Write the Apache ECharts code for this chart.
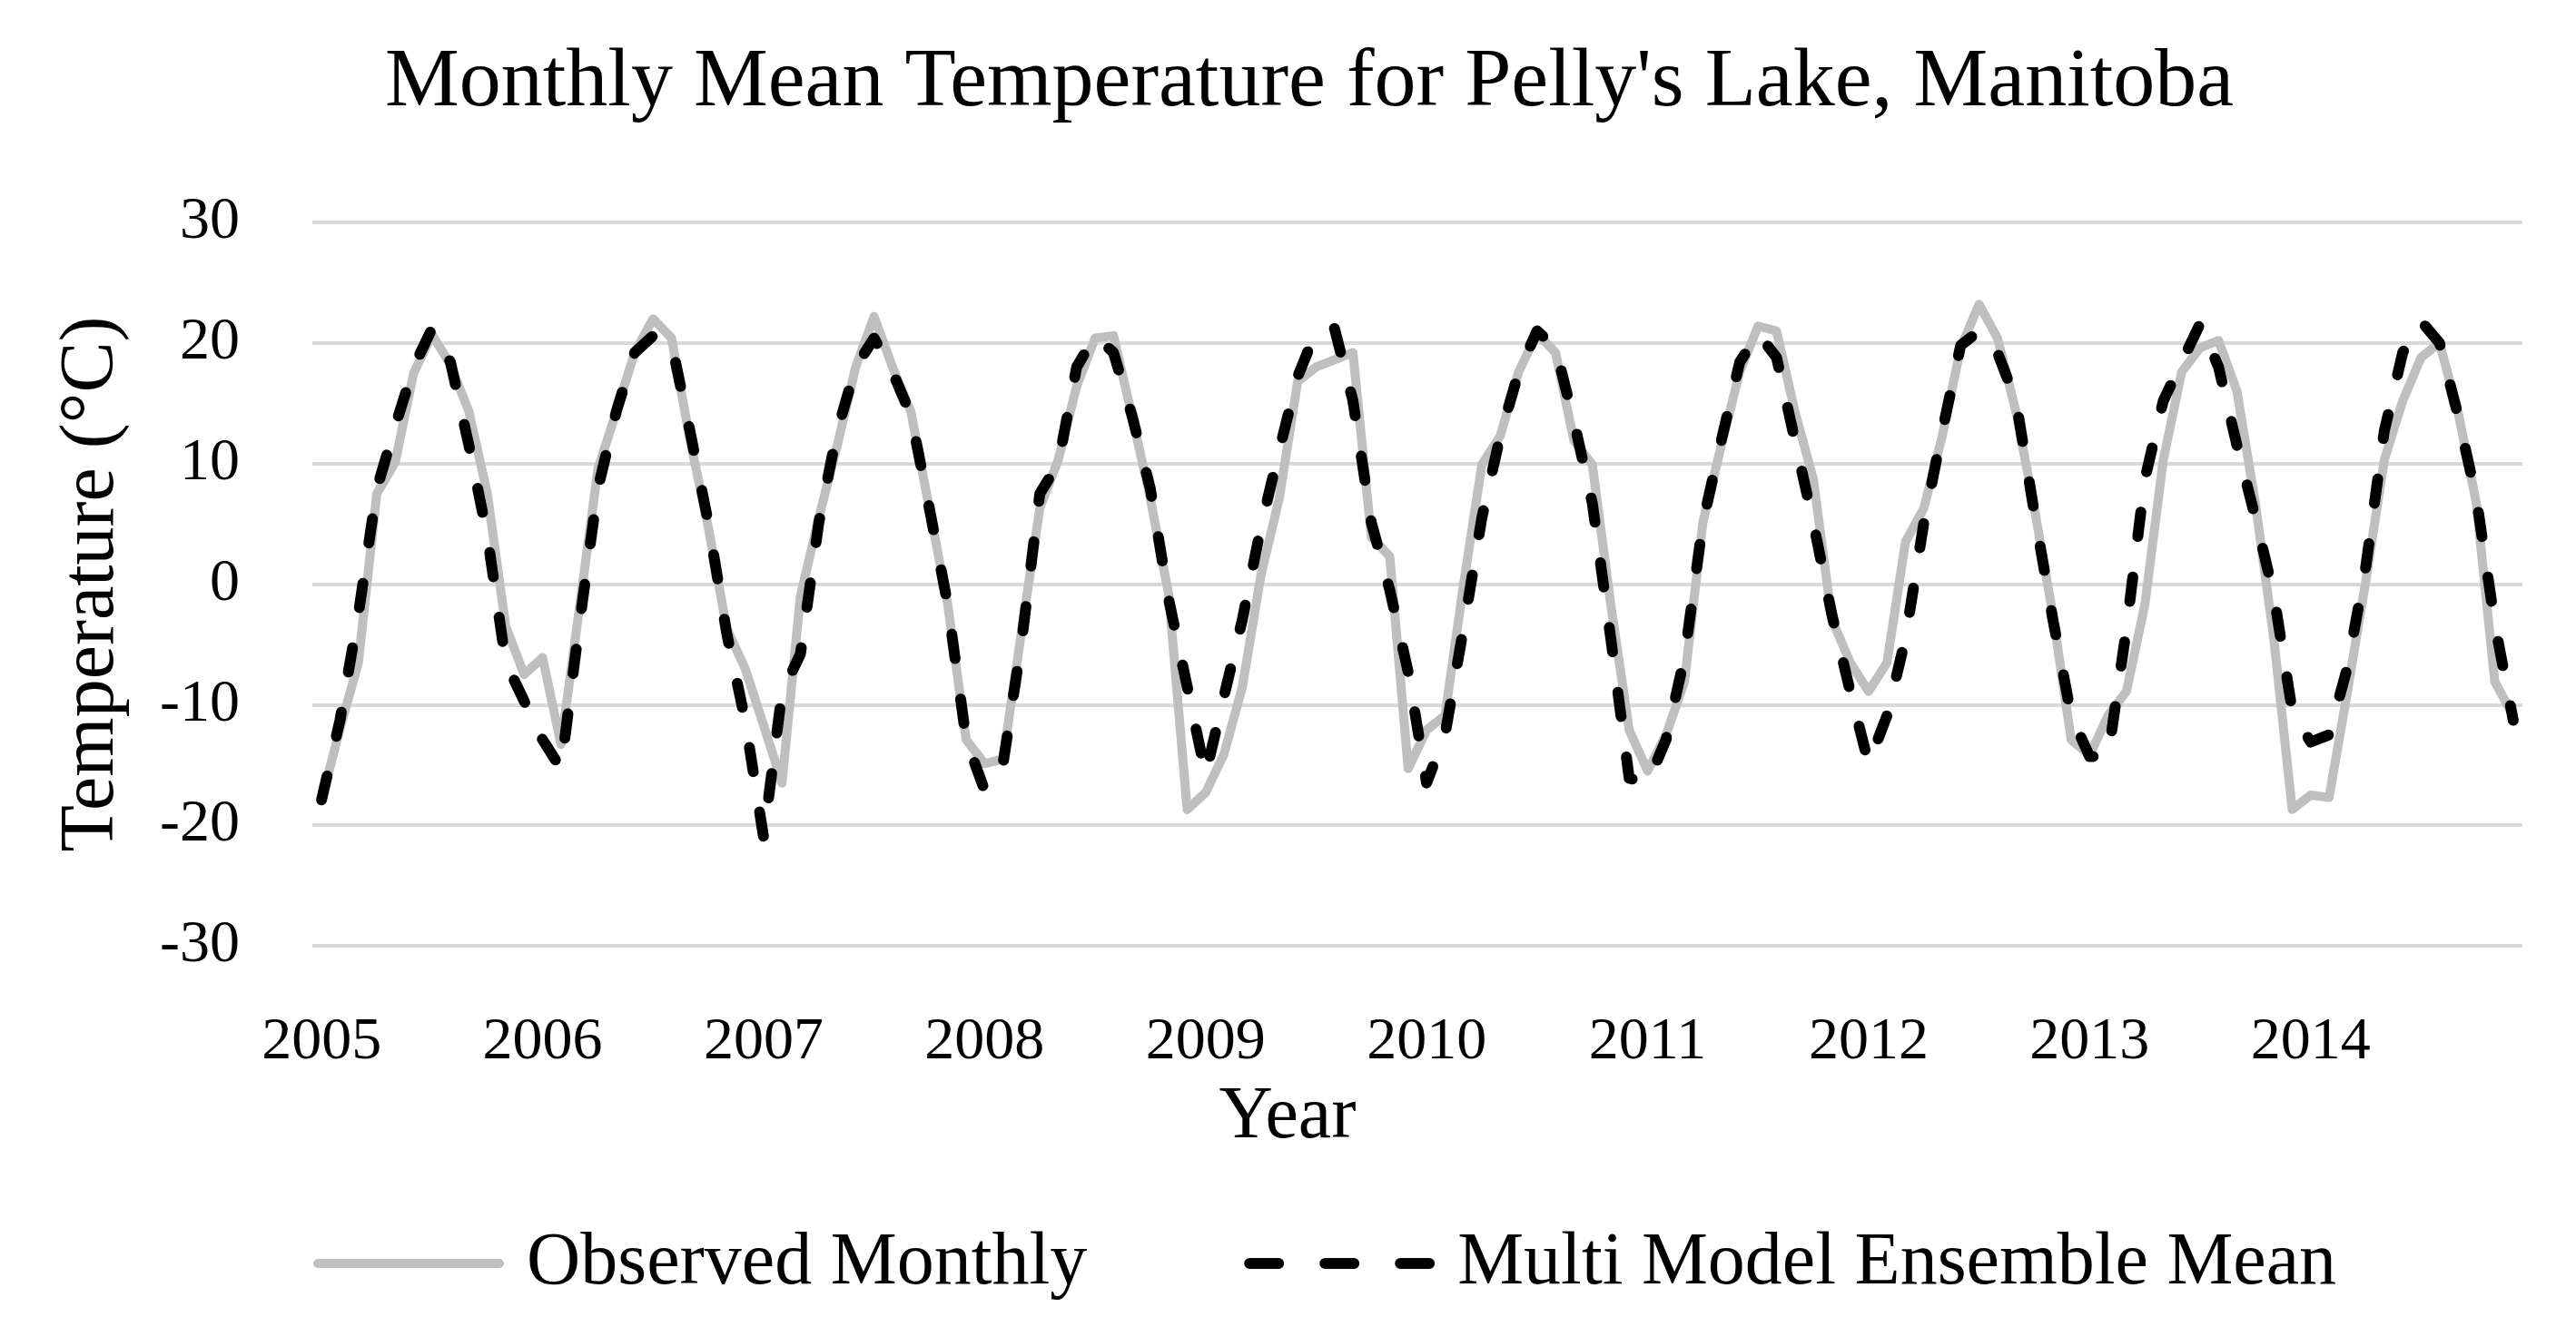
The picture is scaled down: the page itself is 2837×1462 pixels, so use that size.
<!DOCTYPE html>
<html>
<head>
<meta charset="utf-8">
<title>Monthly Mean Temperature for Pelly's Lake, Manitoba</title>
<script src="https://cdn.jsdelivr.net/npm/echarts@6/dist/echarts.min.js"></script>
<style>
  html, body { margin: 0; padding: 0; background: #fff; }
  #chart { width: 2837px; height: 1462px; }
</style>
</head>
<body>
<div id="chart"></div>
<script>
// years shown on the category axis, one label per January
const years = [2005, 2006, 2007, 2008, 2009, 2010, 2011, 2012, 2013, 2014]
const months = ['01', '02', '03', '04', '05', '06', '07', '08', '09', '10', '11', '12']

// monthly means (°C), Jan..Dec per row
const observed = [
  -17.9, -12.0, -6.5, 7.5, 10.1, 17.5, 20.7, 18.2, 14.3, 7.5, -3.5, -7.5,
  -6.1, -13.3, -2.0, 9.5, 14.3, 19.2, 22.0, 20.4, 12.0, 4.7, -3.7, -7.0,
  -11.7, -16.5, -1.0, 5.5, 11.5, 18.0, 22.2, 18.0, 14.3, 6.3, -1.7, -12.9,
  -14.9, -14.5, -4.0, 6.3, 10.3, 16.4, 20.4, 20.6, 14.0, 7.1, -0.9, -18.7,
  -17.3, -14.1, -8.5, 0.7, 7.1, 16.8, 18.0, 18.6, 19.2, 3.9, 2.3, -15.3,
  -12.1, -10.9, -0.1, 9.9, 12.3, 17.6, 20.8, 19.2, 11.9, 9.9, -1.7, -12.1,
  -15.5, -12.5, -8.1, 5.1, 11.5, 17.6, 21.4, 21.0, 14.3, 8.7, -2.9, -6.5,
  -8.9, -6.5, 3.5, 6.3, 12.3, 19.6, 23.2, 20.4, 14.3, 6.3, -2.5, -12.9,
  -14.2, -10.9, -8.9, -1.7, 10.3, 17.6, 19.6, 20.2, 16.0, 6.7, -4.5, -18.7,
  -17.5, -17.7, -8.9, 0.3, 10.3, 15.2, 18.8, 20.0, 14.3, 6.7, -8.1, -10.9
]

const ensemble = [
  -17.9, -11.3, -2.5, 7.9, 13.1, 18.0, 21.2, 18.4, 11.5, 4.0, -6.5, -9.7,
  -12.9, -15.3, -3.3, 7.9, 14.3, 19.2, 20.6, 20.0, 12.7, 5.1, -4.1, -11.3,
  -21.0, -9.0, -5.8, 5.1, 12.7, 18.0, 20.4, 17.6, 14.0, 6.3, -1.7, -12.9,
  -17.1, -14.9, -4.9, 7.5, 10.0, 18.0, 20.6, 19.2, 14.0, 7.9, -1.3, -8.5,
  -15.8, -9.3, -2.9, 4.7, 11.1, 17.2, 21.0, 21.2, 15.2, 5.1, -0.5, -7.3,
  -16.5, -12.5, -3.7, 5.5, 12.3, 17.6, 21.0, 19.6, 13.5, 6.7, -4.5, -16.1,
  -16.5, -12.9, -6.1, 5.1, 11.9, 18.4, 20.8, 18.8, 11.9, 5.1, -2.5, -8.9,
  -14.9, -10.9, -4.5, 5.1, 12.7, 19.8, 21.0, 19.2, 15.2, 5.9, -2.9, -10.9,
  -14.3, -14.3, -3.7, 8.7, 15.2, 18.4, 21.6, 18.0, 11.5, 5.5, -0.9, -10.5,
  -13.1, -12.5, -6.9, 1.5, 12.7, 19.2, 21.8, 20.0, 14.0, 7.1, -3.3, -11.3
]

const yTicks = { min: -30, max: 30, step: 10 }

const categories = []
years.forEach(y => months.forEach(m => categories.push(y + '-' + m)))

const font = 'Liberation Serif'

// legend swatches: a solid bar and three short dashes
const solidIcon = 'path://M5,0h200a5,5 0 0 1 0,10h-200a5,5 0 0 1 0,-10z'
const dashIcon = 'path://M6,0h32a6,6 0 0 1 0,12h-32a6,6 0 0 1 0,-12z' +
  'M89,0h32a6,6 0 0 1 0,12h-32a6,6 0 0 1 0,-12z' +
  'M172,0h32a6,6 0 0 1 0,12h-32a6,6 0 0 1 0,-12z'

const chart = echarts.init(document.getElementById('chart'))

chart.setOption({
  animation: false,
  backgroundColor: '#fff',
  textStyle: { fontFamily: font, color: '#000' },
  title: {
    text: "Monthly Mean Temperature for Pelly's Lake, Manitoba",
    left: 419,
    top: 41,
    textStyle: { fontFamily: font, fontSize: 92, fontWeight: 'normal', color: '#000' }
  },
  legend: {
    left: 340,
    top: 1346,
    itemWidth: 210,
    itemHeight: 12,
    itemGap: 173,
    textStyle: { fontFamily: font, fontSize: 82, color: '#000', padding: [0, 0, 0, 20] },
    data: [
      { name: 'Observed Monthly', icon: solidIcon },
      { name: 'Multi Model Ensemble Mean', icon: dashIcon }
    ]
  },
  grid: { left: 344, right: 59, top: 245, bottom: 420 },
  xAxis: {
    type: 'category',
    data: categories,
    boundaryGap: true,
    name: 'Year',
    nameLocation: 'middle',
    nameGap: 148,
    nameTextStyle: { fontFamily: font, fontSize: 82, color: '#000', padding: [0, 286, 0, 0] },
    axisLine: { show: false },
    axisTick: { show: false },
    axisLabel: {
      interval: 11,
      margin: 74,
      fontFamily: font,
      fontSize: 66,
      color: '#000',
      formatter: v => v.slice(0, 4)
    },
    splitLine: { show: false }
  },
  yAxis: {
    type: 'value',
    min: yTicks.min,
    max: yTicks.max,
    interval: yTicks.step,
    name: 'Temperature (°C)',
    nameLocation: 'middle',
    nameGap: 200,
    nameTextStyle: { fontFamily: font, fontSize: 84, color: '#000' },
    axisLine: { show: false },
    axisTick: { show: false },
    axisLabel: { margin: 80, fontFamily: font, fontSize: 66, color: '#000' },
    splitLine: { lineStyle: { color: '#d9d9d9', width: 4 } }
  },
  series: [
    {
      name: 'Observed Monthly',
      type: 'line',
      data: observed,
      symbol: 'none',
      color: '#bfbfbf',
      lineStyle: { color: '#bfbfbf', width: 10, cap: 'round', join: 'round' },
      emphasis: { disabled: true }
    },
    {
      name: 'Multi Model Ensemble Mean',
      type: 'line',
      data: ensemble,
      symbol: 'none',
      color: '#000',
      lineStyle: { color: '#000', width: 12, type: [27, 45], cap: 'round', join: 'round' },
      emphasis: { disabled: true }
    }
  ]
})
</script>
</body>
</html>
